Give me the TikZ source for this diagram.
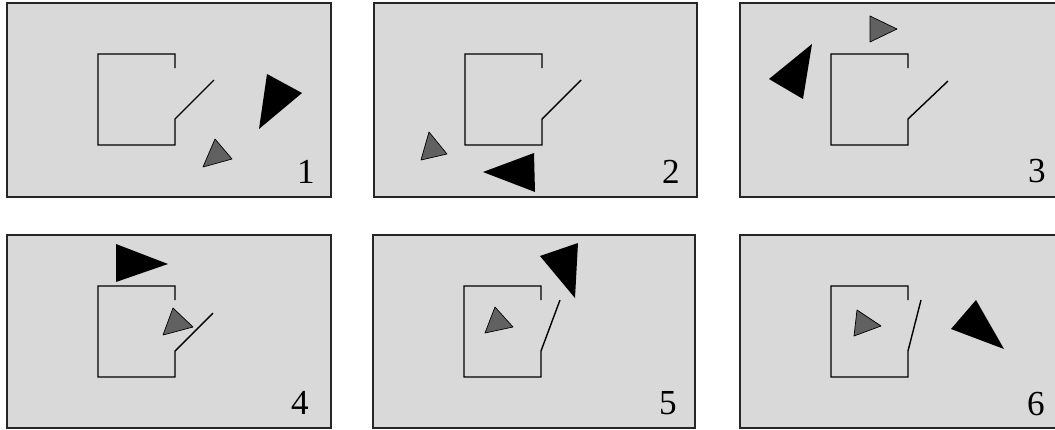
\documentclass[tikz,border=0pt]{standalone}
\usepackage{fontspec}
\setmainfont{Liberation Serif}
\tikzset{
  every picture/.style={x=0.025cm, y=-0.025cm},
  panel/.style={draw=black!85, fill=black!15, line width=1.1pt},
  wall/.style={draw=black, line width=1pt},
  bigtri/.style={fill=black},
  smalltri/.style={fill=black!62, draw=black, line width=0.5pt, line join=round},
  framenum/.style={font=\fontsize{25}{25}\selectfont, inner sep=0pt},
}
% house with its door, the door end is the argument
\newcommand{\room}[1]{\draw[wall] (168,65) -- (168,51) -- (91,51) -- (91,142) -- (168,142) -- (168,116) -- #1;}

\begin{document}
\begin{tikzpicture}
  \useasboundingbox (0,0) rectangle (1055,429);
  % top row
  \begin{scope}[shift={(7,3)}]
    \path[panel] (0,0) rectangle (324,194);
    \room{(207,77)}
    \fill[bigtri] (260,71) -- (295,90) -- (252,126) -- cycle;
    \filldraw[smalltri] (208,136) -- (225,156) -- (196,164) -- cycle;
    \node[framenum] (n1) at (299,169) {1};
  \end{scope}
  \begin{scope}[shift={(374,3)}]
    \path[panel] (0,0) rectangle (323,194);
    \room{(207,77)}
    \fill[bigtri] (160,150) -- (161,189) -- (109,169) -- cycle;
    \filldraw[smalltri] (55,129) -- (73,151) -- (47,157) -- cycle;
    \node[framenum] (n2) at (297,169) {2};
  \end{scope}
  \begin{scope}[shift={(740,3)}]
    \path[panel] (0,0) rectangle (324,194);
    \room{(208,78)}
    \fill[bigtri] (72,41) -- (63,96) -- (29,76) -- cycle;
    \filldraw[smalltri] (130,13) -- (157,26) -- (130,39) -- cycle;
    \node[framenum] (n3) at (297,168) {3};
  \end{scope}
  % bottom row
  \begin{scope}[shift={(7,235)}]
    \path[panel] (0,0) rectangle (324,193);
    \room{(206,78)}
    \fill[bigtri] (109,9) -- (161,29) -- (109,47) -- cycle;
    \filldraw[smalltri] (166,73) -- (186,92) -- (156,100) -- cycle;
    \node[framenum] (n4) at (293,168) {4};
  \end{scope}
  \begin{scope}[shift={(373,235)}]
    \path[panel] (0,0) rectangle (322,193);
    \room{(187,65)}
    \fill[bigtri] (167,21) -- (205,8) -- (202,63) -- cycle;
    \filldraw[smalltri] (122,72) -- (140,92) -- (112,98) -- cycle;
    \node[framenum] (n5) at (295,168) {5};
  \end{scope}
  \begin{scope}[shift={(740,235)}]
    \path[panel] (0,0) rectangle (324,193);
    \room{(181,65)}
    \fill[bigtri] (236,65) -- (264,114) -- (211,94) -- cycle;
    \filldraw[smalltri] (117,75) -- (141,91) -- (114,101) -- cycle;
    \node[framenum] (n6) at (296,169) {6};
  \end{scope}
\end{tikzpicture}
\end{document}
